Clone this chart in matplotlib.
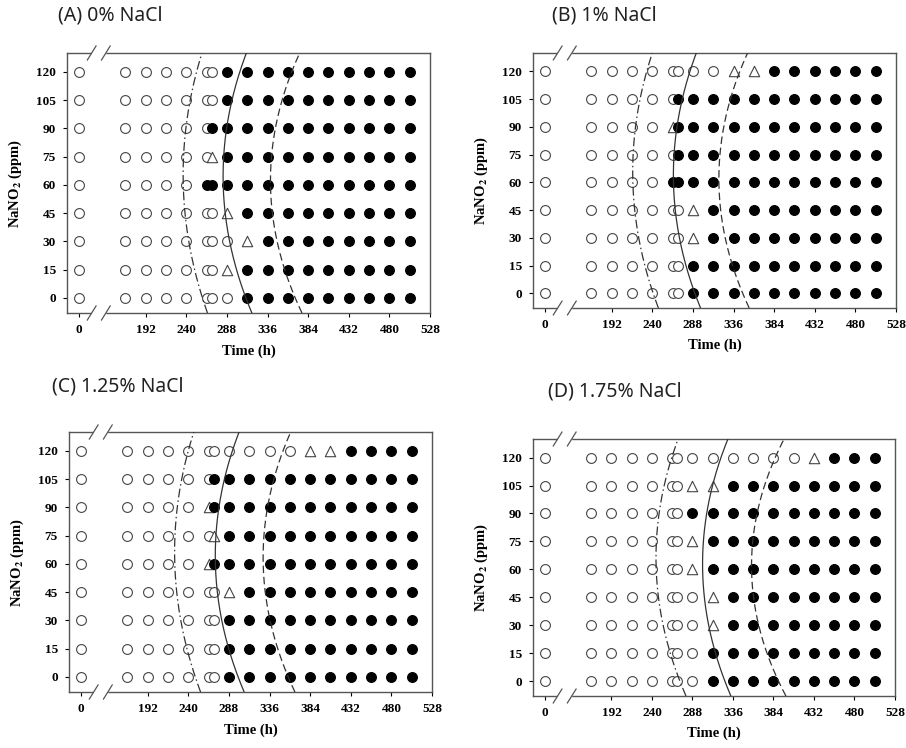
import numpy as np
import matplotlib
matplotlib.use("Agg")
import matplotlib.pyplot as plt

plt.rcParams["mathtext.fontset"] = "stix"

# sampling times (h) and nitrite levels (ppm)
times = [0, 168, 192, 216, 240, 264, 270, 288, 312, 336, 360, 384, 408, 432, 456, 480, 504]
nitrite = [120, 105, 90, 75, 60, 45, 30, 15, 0]

# o = no growth, t = partial, x = growth ; one string per nitrite row, one char per time
grid_A = ["o"*7 + "x"*10, "o"*7 + "x"*10, "o"*6 + "x"*11, "o"*6 + "t" + "x"*10,
          "o"*5 + "x"*12, "o"*7 + "t" + "x"*9, "o"*8 + "t" + "x"*8, "o"*7 + "t" + "x"*9,
          "o"*8 + "x"*9]
grid_B = ["o"*9 + "tt" + "x"*6, "o"*6 + "x"*11, "o"*5 + "t" + "x"*11, "o"*6 + "x"*11,
          "o"*5 + "x"*12, "o"*7 + "t" + "x"*9, "o"*7 + "t" + "x"*9, "o"*7 + "x"*10,
          "o"*7 + "x"*10]
grid_C = ["o"*11 + "tt" + "x"*4, "o"*6 + "x"*11, "o"*5 + "t" + "x"*11, "o"*6 + "t" + "x"*10,
          "o"*5 + "t" + "x"*11, "o"*7 + "t" + "x"*9, "o"*7 + "x"*10, "o"*7 + "x"*10,
          "o"*7 + "x"*10]
grid_D = ["o"*13 + "t" + "x"*3, "o"*7 + "tt" + "x"*8, "o"*7 + "x"*10, "o"*7 + "t" + "x"*9,
          "o"*7 + "t" + "x"*9, "o"*8 + "t" + "x"*8, "o"*8 + "t" + "x"*8, "o"*8 + "x"*9,
          "o"*8 + "x"*9]

# boundary curves: time read at top edge, middle (60 ppm) and bottom edge
curve_y = [130, 60, -8]
curves_A = {"dashdot": [258.5, 236.4, 265], "solid": [311, 283.6, 317.5], "dashed": [374, 339.5, 376.7]}
curves_B = {"dashdot": [240, 217, 247.2], "solid": [292, 265, 297], "dashed": [352.6, 318.7, 354.5]}
curves_C = {"dashdot": [246.5, 224, 254.5], "solid": [300, 272, 306], "dashed": [361, 328.5, 366]}
curves_D = {"dashdot": [271, 245, 280.3], "solid": [330, 300, 333.5], "dashed": [396.5, 358, 398.7]}

titles = ["(A) 0% NaCl", "(B) 1% NaCl", "(C) 1.25% NaCl", "(D) 1.75% NaCl"]
xticks = [0, 192, 240, 288, 336, 384, 432, 480, 528]
yticks = [0, 15, 30, 45, 60, 75, 90, 105, 120]


def fwd(t):
    return np.interp(t, [-1000, 20, 150, 10000], [-887, 133, 150, 10000])


def inv(p):
    return np.interp(p, [-887, 133, 150, 10000], [-1000, 20, 150, 10000])


W, H = 906, 748
fig = plt.figure(figsize=(W / 100, H / 100), dpi=100)

# axes boxes in pixels: left, right, top, bottom
boxes = [(67, 430, 53, 313), (533, 896, 53, 308), (69, 432, 432, 692), (533, 895, 439, 696)]
title_pos = [(58, 16), (552, 15), (52, 387), (548, 391)]

serif = "Liberation Serif"
styles = {"dashdot": (0, (7, 2.5, 1.2, 2.5)), "solid": "-", "dashed": (0, (6, 3))}

for grid, curves, box, title, tpos in zip([grid_A, grid_B, grid_C, grid_D],
                                          [curves_A, curves_B, curves_C, curves_D],
                                          boxes, titles, title_pos):
    l, r, t, b = box
    ax = fig.add_axes([l / W, 1 - b / H, (r - l) / W, (b - t) / H])
    ax.set_xscale("function", functions=(fwd, inv))

    for row, y in zip(grid, nitrite):
        assert len(row) == len(times)
        for x, c in zip(times, row):
            if c == "o":
                ax.scatter(x, y, s=50, marker="o", facecolor="white", edgecolor="#444444", lw=0.8, zorder=2)
            elif c == "x":
                ax.scatter(x, y, s=50, marker="o", facecolor="black", edgecolor="black", lw=0.8, zorder=2)
            elif c == "t":
                ax.scatter(x, y, s=56, marker="^", facecolor="white", edgecolor="#444444", lw=0.8, zorder=2)

    yy = np.linspace(-8, 130, 200)
    for name, pts in curves.items():
        coef = np.polyfit(curve_y, pts, 2)
        ax.plot(np.polyval(coef, yy), yy, color="#333333", lw=0.9, ls=styles[name], zorder=3)

    ax.set_xlim(-14, 528)
    ax.set_ylim(-8, 130)
    ax.set_xticks(xticks)
    ax.set_yticks(yticks)
    ax.minorticks_off()
    ax.tick_params(direction="out", length=3, width=0.8, pad=5, labelsize=9.5)
    for lab in ax.get_xticklabels() + ax.get_yticklabels():
        lab.set_fontfamily(serif)
        lab.set_fontweight("bold")
    for sp in ax.spines.values():
        sp.set_color("#555555")
        sp.set_linewidth(1.0)

    ax.set_xlabel("Time (h)", fontfamily=serif, fontweight="bold", fontsize=10.5)
    ax.xaxis.set_label_coords(0.5, -0.12)
    ax.set_ylabel(r"NaNO$_\mathbf{2}$ (ppm)", fontfamily=serif, fontweight="bold", fontsize=10.5)
    ax.yaxis.set_label_coords(-0.118, 0.5)

    # axis break marks
    x0, x1 = 0.068, 0.107
    dx, dy = 0.012, 0.027
    for ys in (0, 1):
        ax.plot([x0 + 0.004, x1 - 0.004], [ys, ys], color="white", lw=2.5,
                transform=ax.transAxes, clip_on=False, zorder=5)
        for xs in (x0, x1):
            ax.plot([xs - dx, xs + dx], [ys - dy, ys + dy], color="#555555", lw=0.9,
                    transform=ax.transAxes, clip_on=False, zorder=6)

    fig.text(tpos[0] / W, 1 - tpos[1] / H, title, fontsize=14, family="Noto Sans",
             ha="left", va="center", color="#222222")

fig.savefig("out.png", dpi=100)
